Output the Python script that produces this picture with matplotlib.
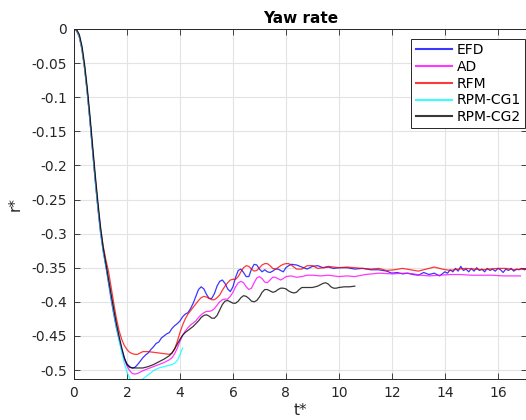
import matplotlib
matplotlib.use("Agg")
import matplotlib.pyplot as plt
from matplotlib.ticker import FixedLocator, FuncFormatter

plt.rcParams["font.family"] = ["DejaVu Sans"]
plt.rcParams["axes.unicode_minus"] = False

# Yaw rate time histories (t*, r*)
efd_t = [0.0, 0.1, 0.2, 0.3, 0.4, 0.5, 0.6, 0.7, 0.8, 0.9, 1.0, 1.1, 1.2, 1.3, 1.4, 1.5, 1.6, 1.7, 1.8, 1.9,
         2.0, 2.1, 2.2, 2.3, 2.4, 2.5, 2.6, 2.7, 2.8, 2.9, 3.0, 3.1, 3.2, 3.3, 3.4, 3.5, 3.6, 3.7, 3.8, 3.9,
         4.0, 4.1, 4.2, 4.3, 4.4, 4.5, 4.6, 4.7, 4.8, 4.9, 5.0, 5.1, 5.2, 5.3, 5.4, 5.5, 5.6, 5.7, 5.8, 5.9,
         6.0, 6.1, 6.2, 6.3, 6.4, 6.5, 6.6, 6.7, 6.8, 6.9, 7.0, 7.1, 7.2, 7.3, 7.4, 7.5, 7.6, 7.7, 7.8, 7.9,
         8.0, 8.1, 8.2, 8.4, 8.6, 8.8, 9.0, 9.2, 9.4, 9.6, 9.8, 10.0, 10.3, 10.6, 10.9, 11.2, 11.5, 11.8,
         12.0, 12.2, 12.4, 12.6, 12.8, 13.0, 13.2, 13.4, 13.6, 13.8, 14.0, 14.1, 14.2, 14.3, 14.4, 14.5,
         14.6, 14.7, 14.8, 14.9, 15.0, 15.1, 15.2, 15.3, 15.4, 15.5, 15.6, 15.7, 15.8, 15.9, 16.0, 16.1,
         16.2, 16.3, 16.4, 16.5, 16.6, 16.7, 16.8, 16.9, 17.0, 17.1]
efd_r = [0.0, -0.002, -0.010, -0.028, -0.056, -0.092, -0.133, -0.178, -0.222, -0.262, -0.298, -0.325,
         -0.347, -0.372, -0.396, -0.418, -0.438, -0.455, -0.470, -0.483,
         -0.491, -0.495, -0.497, -0.496, -0.492, -0.487, -0.482, -0.478, -0.475, -0.470, -0.466, -0.461,
         -0.459, -0.453, -0.450, -0.447, -0.445, -0.439, -0.435, -0.432,
         -0.428, -0.422, -0.418, -0.416, -0.410, -0.402, -0.392, -0.382, -0.378, -0.381, -0.389, -0.395,
         -0.395, -0.388, -0.377, -0.370, -0.368, -0.373, -0.381, -0.385,
         -0.378, -0.364, -0.354, -0.352, -0.357, -0.363, -0.363, -0.352, -0.345, -0.346, -0.352, -0.356,
         -0.353, -0.356, -0.357, -0.355, -0.352, -0.352, -0.354, -0.356,
         -0.350, -0.347, -0.345, -0.346, -0.349, -0.352, -0.348, -0.347, -0.350, -0.349, -0.351, -0.350,
         -0.350, -0.352, -0.351, -0.353, -0.353, -0.355,
         -0.358, -0.357, -0.359, -0.358, -0.360, -0.361, -0.357, -0.360, -0.358, -0.362, -0.356, -0.358,
         -0.353, -0.356, -0.351, -0.355,
         -0.348, -0.354, -0.352, -0.356, -0.351, -0.355, -0.350, -0.354, -0.352, -0.356, -0.351, -0.354,
         -0.352, -0.355, -0.351, -0.353,
         -0.357, -0.352, -0.354, -0.351, -0.355, -0.352, -0.353, -0.351, -0.353, -0.352]

ad_t = [0.0, 0.1, 0.2, 0.3, 0.4, 0.5, 0.6, 0.7, 0.8, 0.9, 1.0, 1.1, 1.2, 1.3, 1.4, 1.5, 1.6, 1.7, 1.8, 1.9,
        2.0, 2.1, 2.2, 2.3, 2.4, 2.5, 2.6, 2.8, 3.0, 3.2, 3.4, 3.6, 3.7, 3.8, 3.9,
        4.0, 4.1, 4.2, 4.3, 4.4, 4.5, 4.6, 4.7, 4.8, 4.9, 5.0, 5.1, 5.2, 5.3, 5.4, 5.5, 5.6, 5.7, 5.8, 5.9,
        6.0, 6.1, 6.2, 6.3, 6.4, 6.5, 6.6, 6.7, 6.8, 6.9, 7.0, 7.1, 7.2, 7.3, 7.4, 7.5, 7.6, 7.7, 7.8, 7.9,
        8.0, 8.2, 8.4, 8.6, 8.8, 9.0, 9.3, 9.6, 10.0, 10.3, 10.6, 11.0, 11.5, 12.0, 12.5, 12.8, 13.1,
        13.4, 13.8, 14.2, 14.6, 15.0, 15.4, 15.8, 16.2, 16.6, 16.85]
ad_r = [0.0, -0.002, -0.011, -0.029, -0.057, -0.092, -0.133, -0.177, -0.220, -0.260, -0.296, -0.324,
        -0.346, -0.368, -0.392, -0.415, -0.435, -0.453, -0.470, -0.484,
        -0.494, -0.501, -0.505, -0.506, -0.505, -0.503, -0.501, -0.498, -0.495, -0.492, -0.489, -0.485,
        -0.482, -0.476, -0.468,
        -0.458, -0.449, -0.443, -0.438, -0.434, -0.431, -0.428, -0.423, -0.419, -0.416, -0.414, -0.414,
        -0.413, -0.410, -0.405, -0.400, -0.397, -0.396, -0.396, -0.392,
        -0.386, -0.378, -0.372, -0.370, -0.372, -0.378, -0.382, -0.380, -0.372, -0.365, -0.363, -0.366,
        -0.371, -0.372, -0.368, -0.364, -0.364, -0.366, -0.368, -0.366,
        -0.363, -0.362, -0.364, -0.363, -0.361, -0.361, -0.362, -0.361, -0.363, -0.362, -0.363, -0.360,
        -0.358, -0.359, -0.358, -0.359, -0.361,
        -0.362, -0.361, -0.360, -0.360, -0.361, -0.361, -0.361, -0.362, -0.362, -0.362]

rfm_t = [0.0, 0.1, 0.2, 0.3, 0.4, 0.5, 0.6, 0.7, 0.8, 0.9, 1.0, 1.1, 1.2, 1.3, 1.4, 1.5, 1.6, 1.7, 1.8, 1.9,
         2.0, 2.1, 2.2, 2.3, 2.4, 2.5, 2.6, 2.8, 3.0, 3.2, 3.4, 3.6, 3.7, 3.8, 3.9,
         4.0, 4.1, 4.2, 4.3, 4.4, 4.5, 4.6, 4.7, 4.8, 4.9, 5.0, 5.1, 5.2, 5.3, 5.4, 5.5, 5.6, 5.7, 5.8, 5.9,
         6.0, 6.1, 6.2, 6.3, 6.4, 6.5, 6.6, 6.7, 6.8, 6.9, 7.0, 7.1, 7.2, 7.3, 7.4, 7.5, 7.6, 7.7, 7.8, 7.9,
         8.0, 8.1, 8.2, 8.4, 8.6, 8.8, 9.0, 9.2, 9.4, 9.6, 9.8, 10.0, 10.3, 10.6, 10.9, 11.2, 11.5, 11.8,
         12.1, 12.4, 12.7, 13.0, 13.3, 13.6, 13.9, 14.2, 14.5, 14.8, 15.1, 15.4, 15.7, 16.0, 16.3, 16.6,
         16.9, 17.1]
rfm_r = [0.0, -0.003, -0.012, -0.030, -0.058, -0.092, -0.132, -0.175, -0.218, -0.258, -0.292, -0.318,
         -0.338, -0.355, -0.378, -0.402, -0.424, -0.442, -0.455, -0.464,
         -0.470, -0.474, -0.476, -0.477, -0.477, -0.475, -0.473, -0.473, -0.474, -0.475, -0.476, -0.477,
         -0.475, -0.469, -0.458,
         -0.445, -0.434, -0.425, -0.418, -0.413, -0.408, -0.403, -0.398, -0.394, -0.392, -0.393, -0.395,
         -0.397, -0.397, -0.394, -0.390, -0.383, -0.377, -0.372, -0.368,
         -0.367, -0.367, -0.363, -0.356, -0.350, -0.347, -0.348, -0.352, -0.355, -0.354, -0.350, -0.346,
         -0.344, -0.344, -0.347, -0.351, -0.352, -0.350, -0.347, -0.345,
         -0.344, -0.344, -0.346, -0.352, -0.352, -0.347, -0.347, -0.351, -0.350, -0.348, -0.349, -0.350,
         -0.349, -0.350, -0.351, -0.352, -0.351, -0.354,
         -0.353, -0.351, -0.353, -0.355, -0.352, -0.349, -0.352, -0.354, -0.352, -0.351, -0.352, -0.353,
         -0.352, -0.351, -0.351, -0.353, -0.352, -0.352]

cg1_t = [0.0, 0.1, 0.2, 0.3, 0.4, 0.5, 0.6, 0.7, 0.8, 0.9, 1.0, 1.1, 1.2, 1.3, 1.4, 1.5, 1.6, 1.7, 1.8, 1.9,
         2.0, 2.1, 2.2, 2.3, 2.4, 2.5, 2.6, 2.7, 2.8, 3.0, 3.2, 3.4, 3.6, 3.7, 3.8, 3.9, 4.0, 4.05, 4.1]
cg1_r = [0.0, -0.002, -0.011, -0.030, -0.058, -0.093, -0.134, -0.178, -0.221, -0.261, -0.297, -0.325,
         -0.347, -0.369, -0.393, -0.416, -0.437, -0.456, -0.474, -0.490,
         -0.503, -0.512, -0.518, -0.520, -0.519, -0.516, -0.513, -0.510, -0.507, -0.501, -0.497, -0.495,
         -0.493, -0.492, -0.490, -0.486, -0.478, -0.472, -0.468]

cg2_t = [0.0, 0.1, 0.2, 0.3, 0.4, 0.5, 0.6, 0.7, 0.8, 0.9, 1.0, 1.1, 1.2, 1.3, 1.4, 1.5, 1.6, 1.7, 1.8, 1.9,
         2.0, 2.1, 2.2, 2.4, 2.6, 2.8, 3.0, 3.2, 3.4, 3.6, 3.7, 3.8, 3.9,
         4.0, 4.1, 4.2, 4.3, 4.4, 4.5, 4.6, 4.7, 4.8, 4.9, 5.0, 5.1, 5.2, 5.3, 5.4, 5.5, 5.6, 5.7, 5.8, 5.9,
         6.0, 6.1, 6.2, 6.3, 6.4, 6.5, 6.6, 6.7, 6.8, 6.9, 7.0, 7.1, 7.2, 7.3, 7.4, 7.5, 7.6, 7.7, 7.8, 7.9,
         8.0, 8.1, 8.2, 8.3, 8.4, 8.5, 8.6, 8.8, 9.0, 9.2, 9.4, 9.5, 9.6, 9.7, 9.8, 9.9, 10.0, 10.2, 10.4,
         10.6]
cg2_r = [0.0, -0.001, -0.008, -0.025, -0.052, -0.086, -0.126, -0.170, -0.213, -0.253, -0.290, -0.320,
         -0.343, -0.366, -0.389, -0.411, -0.432, -0.450, -0.467, -0.482,
         -0.492, -0.496, -0.497, -0.497, -0.497, -0.495, -0.492, -0.488, -0.484, -0.479, -0.475, -0.469,
         -0.462,
         -0.455, -0.449, -0.445, -0.442, -0.439, -0.436, -0.432, -0.428, -0.423, -0.420, -0.419, -0.421,
         -0.424, -0.424, -0.420, -0.412, -0.404, -0.399, -0.398, -0.400,
         -0.402, -0.402, -0.399, -0.394, -0.391, -0.392, -0.395, -0.399, -0.400, -0.398, -0.393, -0.386,
         -0.382, -0.382, -0.384, -0.386, -0.385, -0.382, -0.380, -0.380,
         -0.381, -0.384, -0.386, -0.387, -0.386, -0.382, -0.379, -0.379, -0.379, -0.377, -0.373, -0.372,
         -0.374, -0.378, -0.380, -0.380, -0.379, -0.378, -0.378,
         -0.377]

series_names = ["EFD", "AD", "RFM", "RPM-CG1", "RPM-CG2"]
series_t = [efd_t, ad_t, rfm_t, cg1_t, cg2_t]
series_r = [efd_r, ad_r, rfm_r, cg1_r, cg2_r]
series_colors = ["#0000ff", "#ff00ff", "#ff0000", "#00ffff", "#000000"]

y_ticks = [0, -0.05, -0.1, -0.15, -0.2, -0.25, -0.3, -0.35, -0.4, -0.45, -0.5]
x_ticks = [0, 2, 4, 6, 8, 10, 12, 14, 16]

W, H = 526, 420
fig = plt.figure(figsize=(W / 100, H / 100), dpi=100)
ax = fig.add_axes([74 / W, 40.7 / H, 453 / W, 350.3 / H])

for name, t, r, c in zip(series_names, series_t, series_r, series_colors):
    ax.plot(t, r, color=c, lw=0.9, alpha=0.78, label=name)

ax.set_xlim(0, 17.1)
ax.set_ylim(-0.5136, 0)
ax.xaxis.set_major_locator(FixedLocator(x_ticks))
ax.yaxis.set_major_locator(FixedLocator(y_ticks))
ax.yaxis.set_major_formatter(FuncFormatter(lambda v, p: "%g" % v if v != 0 else "0"))

ax.grid(True, color="#e3e3e3", lw=0.8)
ax.set_axisbelow(True)
ax.tick_params(direction="in", length=4, width=0.6, colors="#262626", labelsize=10,
               top=True, right=True, pad=5)
for s in ax.spines.values():
    s.set_color("#262626")
    s.set_linewidth(0.7)

ax.set_title("Yaw rate", fontsize=11, fontweight="bold", pad=4)
ax.set_xlabel("t*", fontsize=11, color="#262626", labelpad=2)
ax.set_ylabel("r*", fontsize=11, color="#262626", labelpad=6)

leg = ax.legend(loc="upper right", bbox_to_anchor=(525 / W, 1 - 39 / H),
                bbox_transform=fig.transFigure, borderaxespad=0, fontsize=10,
                handlelength=2.6, handletextpad=0.35, labelspacing=0.2,
                borderpad=0.3, fancybox=False, framealpha=1)
leg.get_frame().set_edgecolor("#262626")
leg.get_frame().set_linewidth(0.7)
for line in leg.get_lines():
    line.set_linewidth(1.5)

fig.savefig("out.png", dpi=100)
